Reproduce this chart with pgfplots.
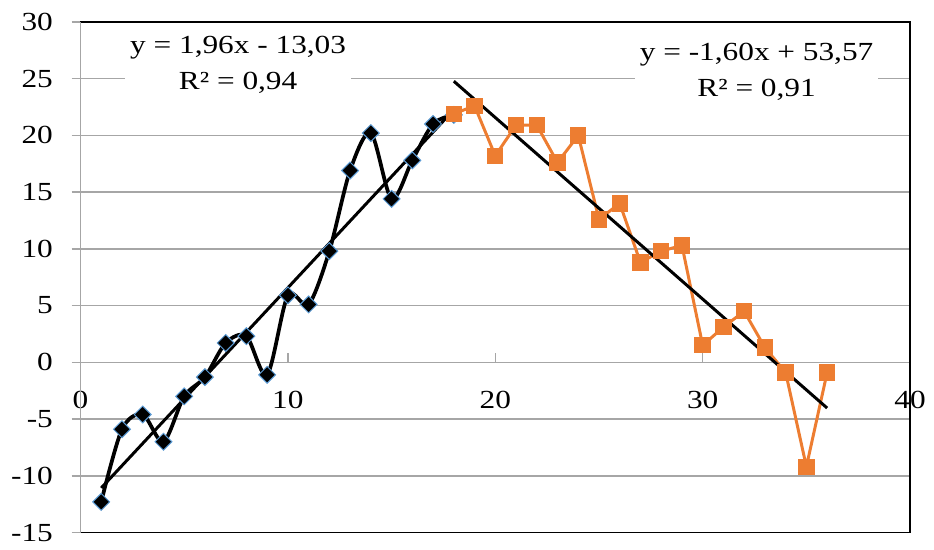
\documentclass[border=0pt]{standalone}
\usepackage{fontspec}
\setmainfont{Liberation Serif}[FakeStretch=1.2]
\usepackage{pgfplots}
\pgfplotsset{compat=1.18}
\definecolor{xlorange}{HTML}{ED7D31}
\definecolor{xlblue}{HTML}{5B9BD5}
\definecolor{xlgrid}{HTML}{A6A6A6}

\begin{document}
\begin{tikzpicture}
\begin{axis}[
    scale only axis,
    width=334pt, height=205.6pt,
    xmin=0, xmax=40, ymin=-15, ymax=30,
    axis line style={black, line width=0.6pt},
    xtick={0,10,20,30,40},
    xticklabels={\textrm{0},\textrm{10},\textrm{20},\textrm{30},\textrm{40}},
    ytick={-15,-10,-5,0,5,10,15,20,25,30},
    yticklabels={\textrm{-15},\textrm{-10},\textrm{-5},\textrm{0},\textrm{5},
        \textrm{10},\textrm{15},\textrm{20},\textrm{25},\textrm{30}},
    ytick pos=left,
    xticklabel pos=lower,
    x tick style={draw=none},
    y tick style={xlgrid, line width=0.6pt},
    ymajorgrids,
    grid style={xlgrid, line width=0.6pt},
    major tick length=3.6pt,
    tick align=outside,
    tick label style={font=\rmfamily\fontsize{10.5}{12}\selectfont},
    xticklabel style={yshift=64pt},
    yticklabel style={xshift=-4pt},
    clip=false,
]

% black series, smoothed
\addplot[black, line width=1.5pt, smooth, tension=0.5,
    mark=square*, mark size=2.4pt,
    mark options={rotate=45, fill=black, draw=xlblue, line width=0.4pt}]
coordinates {
    (1,-12.3) (2,-5.9) (3,-4.6) (4,-7.0) (5,-3.0) (6,-1.3) (7,1.7) (8,2.3)
    (9,-1.1) (10,5.9) (11,5.1) (12,9.8) (13,16.9) (14,20.2) (15,14.4)
    (16,17.8) (17,21.0) (18,21.8)
};

% orange series
\addplot[xlorange, line width=1.2pt, mark=square*, mark size=2.7pt,
    mark options={fill=xlorange, draw=xlorange}]
coordinates {
    (18,21.9) (19,22.6) (20,18.2) (21,20.9) (22,20.9) (23,17.6) (24,20.0)
    (25,12.6) (26,14.0) (27,8.8) (28,9.8) (29,10.3) (30,1.5) (31,3.1)
    (32,4.5) (33,1.3) (34,-0.9) (35,-9.2) (36,-0.9)
};

% trendlines
\addplot[black, line width=1.2pt] coordinates {(1,-11.07) (18,22.25)};
\addplot[black, line width=1.2pt] coordinates {(18,24.77) (36,-4.03)};

% vertical axis line in grey, small upward ticks on the zero line
\draw[xlgrid, line width=0.6pt] (rel axis cs:0,0) -- (rel axis cs:0,1);
\pgfplotsinvokeforeach{10,20,30}{
    \draw[xlgrid, line width=0.6pt] (axis cs:#1,0) -- ([yshift=3.6pt]axis cs:#1,0);
}

\node[fill=white, align=center, inner sep=2pt,
    font=\fontsize{10.5}{14.4}\selectfont]
    at (axis cs:7.6,26.2) {y = 1,96x - 13,03\\R² = 0,94};
\node[fill=white, align=center, inner sep=2pt,
    font=\fontsize{10.5}{14.4}\selectfont]
    at (axis cs:32.6,25.6) {y = -1,60x + 53,57\\R² = 0,91};

\coordinate (ll) at (rel axis cs:0,0);
\coordinate (ur) at (rel axis cs:1,1);
\end{axis}
\path ([xshift=-32.4pt,yshift=-4.8pt]ll) ([xshift=7.2pt,yshift=8.8pt]ur);
\end{tikzpicture}
\end{document}
